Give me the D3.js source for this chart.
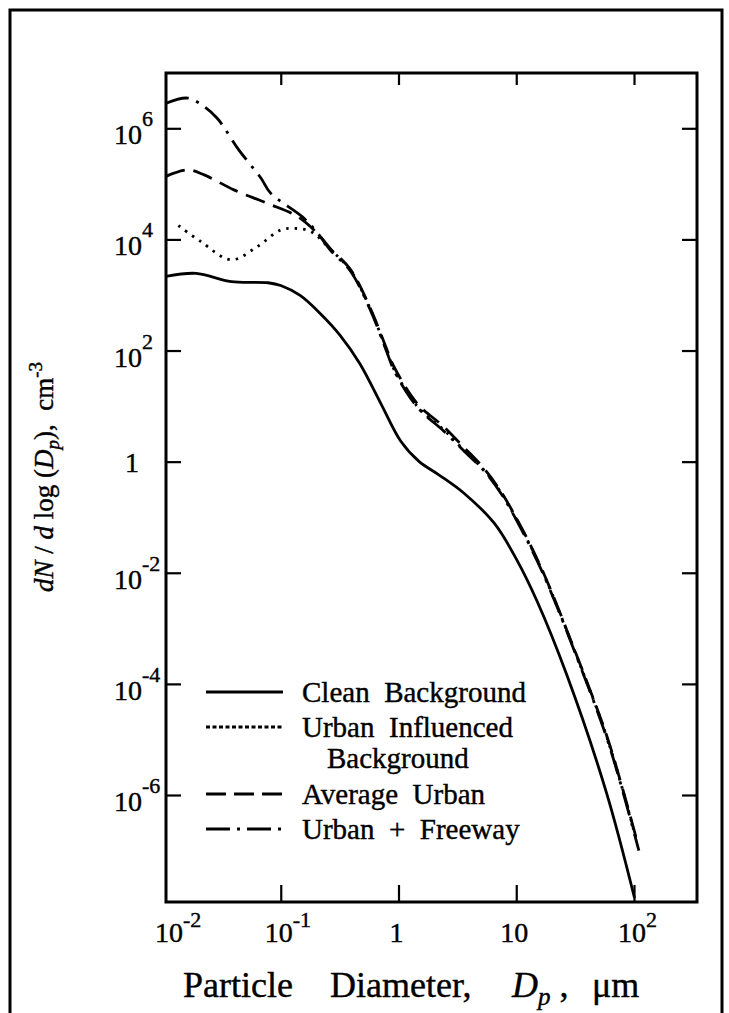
<!DOCTYPE html>
<html>
<head>
<meta charset="utf-8">
<script src="https://cdn.jsdelivr.net/npm/d3@7/dist/d3.min.js"></script>
<style>
  html, body { margin: 0; padding: 0; background: #fff; }
  svg text { font-family: "Liberation Serif", "Times New Roman", serif; fill: #000;
             stroke: #000; stroke-width: 0.4px; white-space: pre; }
</style>
</head>
<body>
<div id="chart"></div>
<script>
// size distributions, [diameter in um, dN/dlogDp in cm^-3]
const cleanBackground = [
  [0.0105, 2150], [0.0191, 2450], [0.038, 1740], [0.078, 1660], [0.10, 1480],
  [0.146, 980], [0.215, 470], [0.318, 190], [0.47, 58], [0.71, 11], [1.05, 2.3],
  [1.5, 1.0], [2.2, 0.58], [3.6, 0.27], [6.5, 0.078], [10, 0.0178], [15, 0.0031],
  [26.7, 1.5e-4], [58, 1.15e-6], [101, 1.4e-8]
];
const urbanInfluenced = [
  [0.0135, 17800], [0.021, 9100], [0.038, 4300], [0.063, 7400], [0.10, 14800],
  [0.13, 15800], [0.18, 13800], [0.266, 6500], [0.39, 2800], [0.58, 540],
  [0.81, 89], [0.92, 45], [1.45, 9.8], [2.44, 3.7], [3.6, 1.6], [5.3, 0.71],
  [7.4, 0.28], [11.7, 0.05], [17.3, 0.0089], [32, 3.5e-4], [58, 1.2e-5],
  [80, 1.26e-6], [106, 1.4e-7]
];
const averageUrban = [
  [0.0105, 135000], [0.0162, 178000], [0.0224, 145000], [0.040, 78000], [0.078, 44000],
  [0.138, 26000], [0.204, 12900], [0.266, 6700], [0.39, 2900], [0.58, 560],
  [0.81, 95], [0.92, 50], [1.45, 11], [2.44, 4.2], [3.6, 1.8], [5.3, 0.76],
  [7.4, 0.29], [11.7, 0.052], [17.3, 0.0092], [32, 3.6e-4], [58, 1.25e-5],
  [80, 1.3e-6], [106, 1.5e-7]
];
const urbanFreeway = [
  [0.0105, 2.8e6], [0.0162, 3.5e6], [0.0224, 2.45e6], [0.029, 1.5e6], [0.044, 4.1e5],
  [0.068, 1.26e5], [0.082, 6.8e4], [0.151, 2.6e4], [0.2, 14000], [0.266, 6300],
  [0.39, 2700], [0.58, 520], [0.81, 85], [0.92, 43], [1.45, 9.5], [2.44, 3.5],
  [3.6, 1.55], [5.3, 0.69], [7.4, 0.27], [11.7, 0.048], [17.3, 0.0086], [32, 3.4e-4],
  [58, 1.15e-5], [80, 1.2e-6], [110, 1.0e-7]
];

const seriesNames = ['Clean  Background', 'Urban  Influenced', 'Average  Urban', 'Urban  +  Freeway'];

const xTicks = [0.01, 0.1, 1, 10, 100];
const xTickLabels = [['10', '-2'], ['10', '-1'], ['1', ''], ['10', ''], ['10', '2']];
const yTicks = [1e6, 1e4, 1e2, 1, 1e-2, 1e-4, 1e-6];
const yTickLabels = [['10', '6'], ['10', '4'], ['10', '2'], ['1', ''], ['10', '-2'], ['10', '-4'], ['10', '-6']];

const width = 729;
const height = 1013;
const plot = { left: 166, right: 697, top: 73, bottom: 902 };

const svg = d3.select('#chart').append('svg')
    .attr('width', width)
    .attr('height', height);

// outer border of the figure
svg.append('rect')
    .attr('x', 10).attr('y', 10)
    .attr('width', 712).attr('height', 1010)
    .attr('fill', 'none').attr('stroke', '#000').attr('stroke-width', 3);

// scales (log both ways)
const x = d3.scaleLog().domain([0.01, 100]).range([163, 634]);
const y = d3.scaleLog().domain([1e6, 1e-6]).range([128.3, 795]);

svg.append('clipPath').attr('id', 'clip')
  .append('rect')
    .attr('x', plot.left).attr('y', plot.top)
    .attr('width', plot.right - plot.left).attr('height', plot.bottom - plot.top);

// inward ticks on all four sides
const tickLen = 15;
const innerX = xTicks.filter((d) => x(d) > plot.left + 2);

svg.append('g')
    .attr('transform', 'translate(0,' + plot.bottom + ')')
    .call(d3.axisBottom(x).tickValues(innerX).tickSize(-17).tickFormat(''));
svg.append('g')
    .attr('transform', 'translate(0,' + plot.top + ')')
    .call(d3.axisTop(x).tickValues(innerX).tickSize(-12).tickFormat(''));
svg.append('g')
    .attr('transform', 'translate(' + plot.left + ',0)')
    .call(d3.axisLeft(y).tickValues(yTicks).tickSize(-tickLen).tickFormat(''));
svg.append('g')
    .attr('transform', 'translate(' + plot.right + ',0)')
    .call(d3.axisRight(y).tickValues(yTicks).tickSize(-tickLen).tickFormat(''));

svg.selectAll('.domain').remove();
svg.selectAll('.tick line').attr('stroke', '#000').attr('stroke-width', 2.2);

// plot frame
svg.append('rect')
    .attr('x', plot.left).attr('y', plot.top)
    .attr('width', plot.right - plot.left).attr('height', plot.bottom - plot.top)
    .attr('fill', 'none').attr('stroke', '#000').attr('stroke-width', 3);

// x tick labels
xTicks.forEach((d, i) => {
  const [base, exp] = xTickLabels[i];
  const cx = x(d) + (i === 0 ? 6 : -2);
  const t = svg.append('text')
      .attr('x', cx).attr('y', 942)
      .attr('text-anchor', 'middle')
      .style('font-size', '28px')
      .text(base);
  if (exp) {
    const bw = t.node().getComputedTextLength();
    svg.append('text')
        .attr('x', cx + bw / 2).attr('y', 927)
        .style('font-size', '22px')
        .text(exp);
  }
});

// y tick labels
yTicks.forEach((d, i) => {
  const [base, exp] = yTickLabels[i];
  const ty = y(d);
  if (exp) {
    svg.append('text')
        .attr('x', 142).attr('y', ty + 16)
        .attr('text-anchor', 'end')
        .style('font-size', '28px')
        .text(base);
    svg.append('text')
        .attr('x', 142).attr('y', ty - 2)
        .style('font-size', '22px')
        .text(exp);
  } else {
    svg.append('text')
        .attr('x', 139).attr('y', ty + 10)
        .attr('text-anchor', 'end')
        .style('font-size', '28px')
        .text(base);
  }
});

// axis titles
const xTitle = svg.append('text')
    .attr('y', 997)
    .style('font-size', '36px');
xTitle.append('tspan').attr('x', 183).text('Particle');
xTitle.append('tspan').attr('x', 330).text('Diameter,');
xTitle.append('tspan').attr('x', 512).style('font-style', 'italic').text('D');
xTitle.append('tspan').style('font-style', 'italic').style('font-size', '25px').attr('dy', 8).text('p');
xTitle.append('tspan').attr('dy', -8).text(' ,');
xTitle.append('tspan').attr('x', 592).text('\u03BCm');

const yTitle = svg.append('text')
    .attr('transform', 'translate(53,477) rotate(-90)')
    .attr('text-anchor', 'middle')
    .style('font-size', '27px');
yTitle.append('tspan').style('font-style', 'italic').text('dN');
yTitle.append('tspan').text(' / ');
yTitle.append('tspan').style('font-style', 'italic').text('d');
yTitle.append('tspan').text(' log (');
yTitle.append('tspan').style('font-style', 'italic').text('D');
yTitle.append('tspan').style('font-style', 'italic').style('font-size', '19px').attr('dy', 6).text('p');
yTitle.append('tspan').attr('dy', -6).text('),  cm');
yTitle.append('tspan').style('font-size', '19px').attr('dy', -11).text('-3');

// curves
const styles = [
  { data: cleanBackground, dash: null, legendDash: null },
  { data: urbanInfluenced, dash: '2.5,6', legendDash: '4,2.5' },
  { data: averageUrban, dash: '20,9', legendDash: '20,8' },
  { data: urbanFreeway, dash: '24,8,3,8', legendDash: '24,7,3,7' }
];

const line = d3.line()
    .x((d) => x(d[0]))
    .y((d) => y(d[1]))
    .curve(d3.curveCatmullRom.alpha(0.5));

svg.append('g').attr('clip-path', 'url(#clip)')
  .selectAll('path')
  .data(styles)
  .enter().append('path')
    .attr('d', (d) => line(d.data))
    .attr('fill', 'none')
    .attr('stroke', '#000')
    .attr('stroke-width', 2.8)
    .attr('stroke-dasharray', (d) => d.dash);

// legend
const legendRows = [692, 727, 794, 829];
const legend = svg.append('g');
styles.forEach((s, i) => {
  legend.append('line')
      .attr('x1', 206).attr('x2', 283)
      .attr('y1', legendRows[i]).attr('y2', legendRows[i])
      .attr('stroke', '#000').attr('stroke-width', 2.8)
      .attr('stroke-dasharray', s.legendDash);
  legend.append('text')
      .attr('x', 302).attr('y', legendRows[i] + 10)
      .style('font-size', '29px')
      .text(seriesNames[i]);
});
legend.append('text')
    .attr('x', 327).attr('y', 768)
    .style('font-size', '29px')
    .text('Background');
</script>
</body>
</html>
